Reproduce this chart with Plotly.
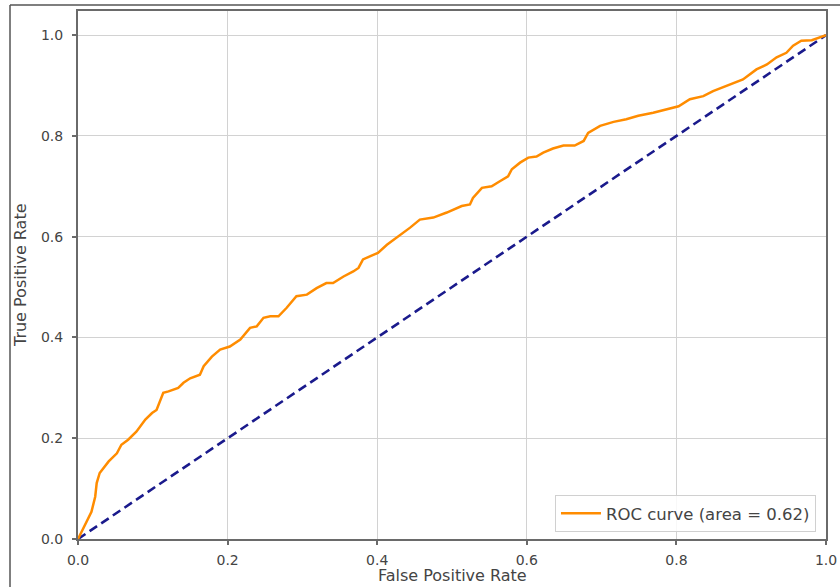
import plotly.graph_objects as go

# ROC curve points
fpr = [0.0, 0.018, 0.023, 0.025, 0.029, 0.041, 0.052, 0.058, 0.067, 0.078, 0.090, 0.099, 0.105,
       0.114, 0.121, 0.134, 0.141, 0.150, 0.163, 0.168, 0.179, 0.190, 0.203, 0.217, 0.230,
       0.239, 0.248, 0.257, 0.268, 0.279, 0.292, 0.306, 0.319, 0.332, 0.341, 0.355, 0.368,
       0.375, 0.381, 0.395, 0.401, 0.413, 0.426, 0.444, 0.457, 0.475, 0.493, 0.513, 0.524,
       0.528, 0.540, 0.553, 0.564, 0.575, 0.580, 0.591, 0.602, 0.613, 0.622, 0.635, 0.649,
       0.664, 0.676, 0.682, 0.698, 0.716, 0.733, 0.749, 0.769, 0.787, 0.803, 0.818, 0.836,
       0.849, 0.872, 0.889, 0.907, 0.921, 0.934, 0.947, 0.956, 0.967, 0.981, 0.997, 1.0]
tpr = [0.0, 0.054, 0.084, 0.111, 0.131, 0.154, 0.170, 0.187, 0.197, 0.213, 0.237, 0.250, 0.256,
       0.290, 0.293, 0.300, 0.310, 0.319, 0.326, 0.343, 0.362, 0.376, 0.382, 0.396, 0.419,
       0.422, 0.439, 0.442, 0.442, 0.459, 0.482, 0.485, 0.498, 0.508, 0.508, 0.521, 0.531,
       0.538, 0.555, 0.565, 0.568, 0.584, 0.598, 0.618, 0.634, 0.638, 0.648, 0.661, 0.664,
       0.677, 0.697, 0.700, 0.710, 0.720, 0.734, 0.747, 0.757, 0.759, 0.767, 0.775, 0.781,
       0.781, 0.790, 0.806, 0.820, 0.828, 0.833, 0.840, 0.846, 0.853, 0.859, 0.873, 0.879,
       0.889, 0.903, 0.912, 0.932, 0.942, 0.956, 0.965, 0.979, 0.989, 0.990, 0.999, 1.0]

diag_x = [0.0, 1.0]
diag_y = [0.0, 1.0]

tick_vals = [0.0, 0.2, 0.4, 0.6, 0.8, 1.0]
tick_text = ["0.0", "0.2", "0.4", "0.6", "0.8", "1.0"]

roc_label = "ROC curve (area = 0.62)"
x_title = "False Positive Rate"
y_title = "True Positive Rate"

fig = go.Figure()
fig.add_trace(go.Scatter(x=diag_x, y=diag_y, mode="lines", showlegend=False,
                         line=dict(color="#1a1a8c", width=2.6, dash="9px,5px")))
fig.add_trace(go.Scatter(x=fpr, y=tpr, mode="lines", name=roc_label,
                         line=dict(color="darkorange", width=2.5)))

axis_common = dict(
    automargin=False,
    showgrid=True, gridcolor="#d2d2d2", gridwidth=1,
    showline=True, linecolor="#6a6a6a", linewidth=2, mirror=True,
    ticks="outside", ticklen=4, tickcolor="#6a6a6a", tickwidth=1.5,
    tickvals=tick_vals, ticktext=tick_text,
    tickfont=dict(family="DejaVu Sans", size=14, color="#444444"),
    zeroline=False,
)

fig.update_xaxes(range=[0, 1], ticklabelstandoff=3, **axis_common)
fig.update_yaxes(range=[0, 1.048], ticklabelstandoff=6, **axis_common)

title_font = dict(family="DejaVu Sans", size=16, color="#444444")

fig.update_layout(
    width=840, height=587,
    margin=dict(l=78, r=14, t=11, b=48, autoexpand=False),
    paper_bgcolor="white", plot_bgcolor="white",
    legend=dict(x=0.9866, y=0.013, xanchor="right", yanchor="bottom",
                itemwidth=40,
                bgcolor="rgba(255,255,255,0.85)", bordercolor="#d0d0d0", borderwidth=1,
                font=dict(family="DejaVu Sans", size=16.5, color="#444444")),
    annotations=[
        dict(text=x_title, xref="paper", yref="paper", x=0.5, y=-0.070,
             xanchor="center", yanchor="middle", showarrow=False, font=title_font),
        dict(text=y_title, xref="paper", yref="paper", x=-0.0775, y=0.5, textangle=-90,
             xanchor="center", yanchor="middle", showarrow=False, font=title_font),
    ],
    shapes=[
        dict(type="line", xref="paper", yref="paper", x0=-0.0909, x1=-0.0909, y0=-0.2, y1=1.0114,
             line=dict(color="#555555", width=1.5)),
        dict(type="line", xref="paper", yref="paper", x0=-0.0909, x1=1.05, y0=1.0114, y1=1.0114,
             line=dict(color="#555555", width=1.5)),
    ],
)

fig.write_html("out.html", config={"displayModeBar": False},
               post_script="document.body.style.margin='0px';")
